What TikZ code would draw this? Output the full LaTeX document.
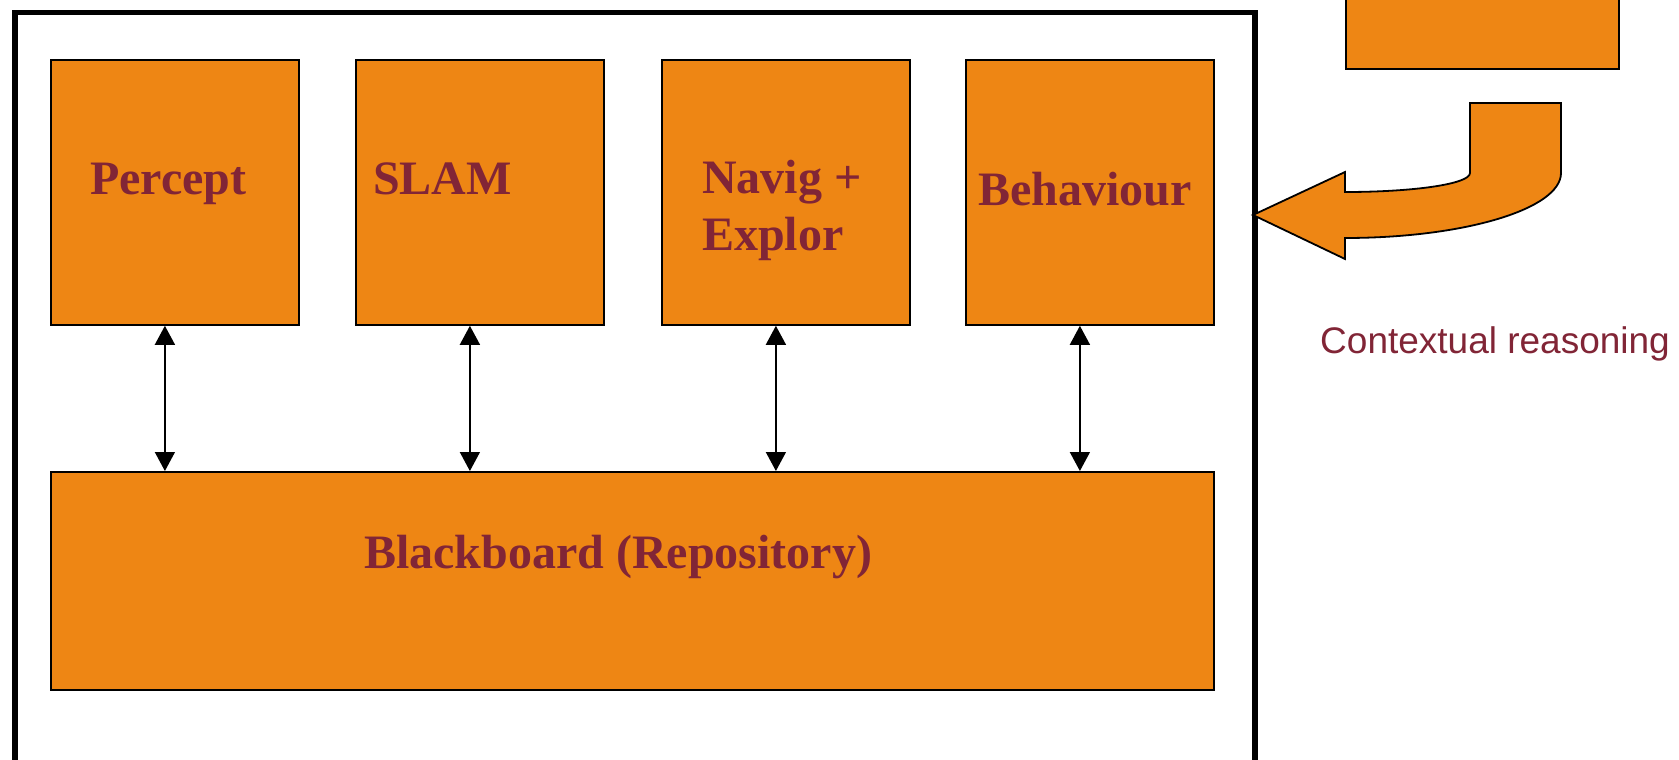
\documentclass[tikz,border=0pt]{standalone}
\usepackage{fontspec}
\setmainfont{Liberation Serif}
\newfontfamily\arialfont{Liberation Sans}
\usetikzlibrary{arrows.meta}
\definecolor{boxorange}{HTML}{EE8614}
\definecolor{txtred}{HTML}{812536}
\tikzset{
  module/.style={draw=black, line width=1.8pt, fill=boxorange, inner sep=0pt, anchor=north west},
  lbl/.style={anchor=base west, inner sep=0pt, text=txtred, font=\fontsize{48}{52}\selectfont\bfseries},
  link/.style={line width=1.6pt, {Triangle[width=20pt,length=19pt]}-{Triangle[width=20pt,length=19pt]}},
}
\begin{document}
\begin{tikzpicture}[x=1pt,y=-1pt]
\useasboundingbox (0,0) rectangle (1679,760);
% outer frame
\node[draw=black, line width=5.5pt, inner sep=0pt, minimum width=1240pt, minimum height=760pt, anchor=north west] (sys) at (12,10) {};
% modules
\node[module, minimum width=248pt, minimum height=265pt] (p) at (50,59) {};
\node[module, minimum width=248pt, minimum height=265pt] (s) at (355,59) {};
\node[module, minimum width=248pt, minimum height=265pt] (n) at (661,59) {};
\node[module, minimum width=248pt, minimum height=265pt] (b) at (965,59) {};
\node[module, minimum width=1163pt, minimum height=218pt] (bb) at (50,471) {};
% labels
\node[lbl] (pt) at (90,194) {Percept};
\node[lbl] (st) at (373,194) {SLAM};
\node[lbl] (nt1) at (702,193) {Navig +};
\node[lbl] (nt2) at (702,250) {Explor};
\node[lbl] (bt) at (978,205) {Behaviour};
\node[lbl] (bbt) at (364,568) {Blackboard (Repository)};
% links
\draw[link] ([xshift=-10pt]p.south) -- ([xshift=-10pt]p.south |- bb.north);
\draw[link] ([xshift=-10pt]s.south) -- ([xshift=-10pt]s.south |- bb.north);
\draw[link] ([xshift=-10pt]n.south) -- ([xshift=-10pt]n.south |- bb.north);
\draw[link] ([xshift=-10pt]b.south) -- ([xshift=-10pt]b.south |- bb.north);
% context box (top right)
\node[module, minimum width=273pt, minimum height=78pt] (ctx) at (1345,-10) {};
% curved block arrow
\draw[line width=1.8pt, fill=boxorange, line join=miter]
  (1470,103) -- (1561,103) -- (1561,173)
  .. controls (1561,209) and (1464,238) .. (1345,238)
  -- (1345,259) -- (1253,215) -- (1345,172) -- (1345,192)
  .. controls (1414,192) and (1470,184) .. (1470,173) -- cycle;
\node[anchor=base west, inner sep=0pt, text=txtred, font=\arialfont\fontsize{37}{40}\selectfont] (cr) at (1320,353) {Contextual reasoning};
\end{tikzpicture}
\end{document}
